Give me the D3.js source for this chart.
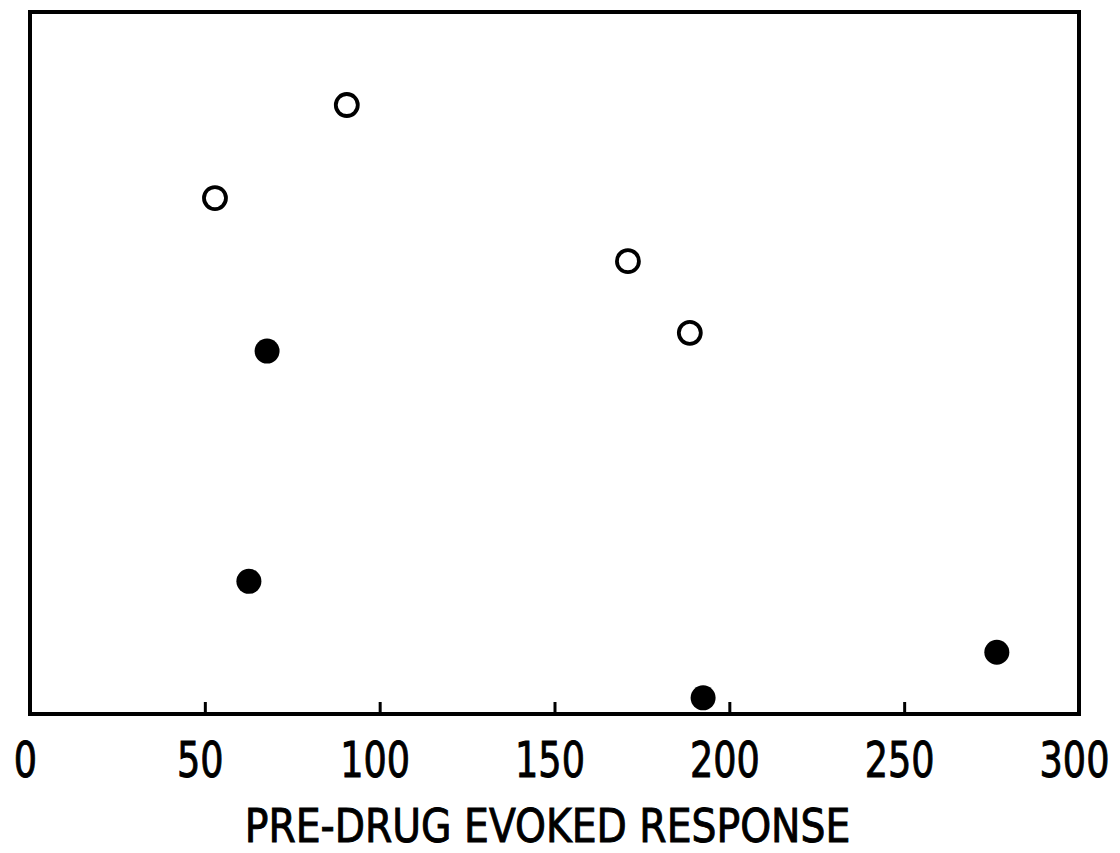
<!DOCTYPE html>
<html>
<head>
<meta charset="utf-8">
<script src="https://cdn.jsdelivr.net/npm/d3@7"></script>
<style>
  html, body { margin: 0; padding: 0; background: #fff; }
  svg { display: block; }
  .lbl { font-family: "Liberation Sans Narrow", "DejaVu Sans Condensed", "Arial Narrow", sans-serif; fill: #000; stroke: #000; stroke-width: 0.9; }
</style>
</head>
<body>
<svg id="chart" width="1120" height="853"></svg>
<script>
// ---- data ----
const xTicks = [0, 50, 100, 150, 200, 250, 300];
const xTickLabels = ["0", "50", "100", "150", "200", "250", "300"];
const xTitle = "PRE-DRUG EVOKED RESPONSE";

// open circles
const openX = [52.9, 90.6, 171.0, 188.7];
const openY = [73.5, 86.75, 64.5, 54.3];
// filled circles
const filledX = [67.8, 62.6, 192.5, 276.5];
const filledY = [51.7, 18.9, 2.3, 8.8];

// ---- layout ----
const mLeft = 30, mRight = 1079, mTop = 12, mBottom = 714;
const svg = d3.select("#chart");

const x = d3.scaleLinear().domain([0, 300]).range([mLeft, mRight]);
const y = d3.scaleLinear().domain([0, 100]).range([mBottom, mTop]);

// frame
svg.append("rect")
  .attr("x", mLeft).attr("y", mTop)
  .attr("width", mRight - mLeft).attr("height", mBottom - mTop)
  .attr("fill", "none").attr("stroke", "#000").attr("stroke-width", 4);

// x axis with inward ticks
const axis = d3.axisBottom(x)
  .tickValues(xTicks)
  .tickSize(-12)
  .tickFormat((d, i) => xTickLabels[i]);

const gx = svg.append("g").attr("transform", `translate(0,${mBottom})`).call(axis);
gx.select(".domain").remove();
gx.selectAll(".tick line").attr("stroke", "#000").attr("stroke-width", 3);
gx.selectAll(".tick text")
  .attr("class", "lbl")
  .attr("font-size", 49)
  .attr("dy", null)
  .attr("y", 0)
  .attr("x", 0)
  .attr("transform", "translate(-5,63) scale(0.83,1)")
  .attr("fill", "#000");

// axis title
svg.append("text")
  .attr("class", "lbl")
  .attr("transform", "translate(547.5,842) scale(0.93,1)")
  .attr("text-anchor", "middle")
  .attr("font-size", 47)
  .text(xTitle);

// points
const openPts = openX.map((v, i) => ({ x: v, y: openY[i] }));
const filledPts = filledX.map((v, i) => ({ x: v, y: filledY[i] }));

svg.append("g").selectAll("circle")
  .data(openPts).join("circle")
  .attr("cx", d => x(d.x)).attr("cy", d => y(d.y))
  .attr("r", 11)
  .attr("fill", "#fff").attr("stroke", "#000").attr("stroke-width", 3.8);

svg.append("g").selectAll("circle")
  .data(filledPts).join("circle")
  .attr("cx", d => x(d.x)).attr("cy", d => y(d.y))
  .attr("r", 12.5)
  .attr("fill", "#000");
</script>
</body>
</html>
